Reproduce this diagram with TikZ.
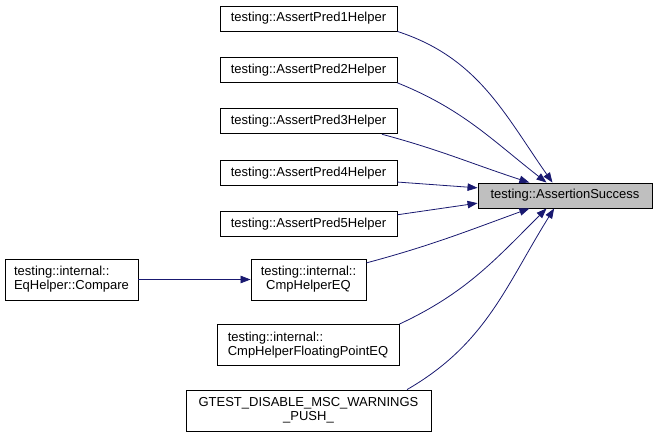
\documentclass[tikz,border=0pt]{standalone}
\usepackage{fontspec}
\setmainfont{Liberation Sans}
\usetikzlibrary{arrows.meta, positioning}
\definecolor{edgeblue}{HTML}{191970}
\definecolor{hlgray}{HTML}{BFBFBF}

\begin{document}
\begin{tikzpicture}[
  x=1pt, y=1pt,
  fn/.style={draw=black, fill=white, line width=0.9pt, minimum height=25pt,
             inner sep=2pt, align=center, font=\fontsize{13}{14}\selectfont},
  pred/.style={fn, minimum width=177pt},
  twoline/.style={fn, minimum height=41pt},
  call/.style={-{Triangle[length=10pt,width=7.5pt]}, draw=edgeblue, line width=0.8pt},
  node distance=25.5pt
]
  \useasboundingbox (0,0) rectangle (657,-437);

  \node[pred] (pred1) at (308.5,-18.5) {testing::AssertPred1Helper};
  \node[pred, below=of pred1] (pred2) {testing::AssertPred2Helper};
  \node[pred, below=of pred2] (pred3) {testing::AssertPred3Helper};
  \node[pred, below=of pred3] (pred4) {testing::AssertPred4Helper};
  \node[pred, below=of pred4] (pred5) {testing::AssertPred5Helper};
  \node[fn, fill=hlgray, minimum width=174pt] (succ) at (565,-195.5) {testing::AssertionSuccess};
  \node[twoline, minimum width=115pt] (cmpeq) at (308.5,-279.5) {testing::internal::\\CmpHelperEQ};
  \node[twoline, minimum width=133pt, align=left] (eqcmp) at (71.5,-279.5) {testing::internal::\\EqHelper::Compare};
  \node[twoline, minimum width=182pt, align=left] (fpeq) at (308,-345) {testing::internal::\\CmpHelperFloatingPointEQ};
  \node[twoline, minimum width=245pt] (gtest) at (308.5,-410.5) {GTEST\_DISABLE\_MSC\_WARNINGS\\\_PUSH\_};

  \draw[call] (pred1.south east) to[out=-18,in=125] (succ.134);
  \draw[call] (pred2.south east) to[out=-22,in=142] (succ.145);
  \draw[call] (pred3.-10) to[out=-15,in=162] (succ.160);
  \draw[call] (pred4.-6) -- (succ.175);
  \draw[call] (pred5.6) -- (succ.185);
  \draw[call] (eqcmp) -- (cmpeq);
  \draw[call] (cmpeq.16) to[out=15,in=-160] (succ.-160);
  \draw[call] (fpeq.north east) to[out=25,in=-135] (succ.-145);
  \draw[call] (gtest.12) to[out=30,in=-122] (succ.-130);
\end{tikzpicture}
\end{document}
